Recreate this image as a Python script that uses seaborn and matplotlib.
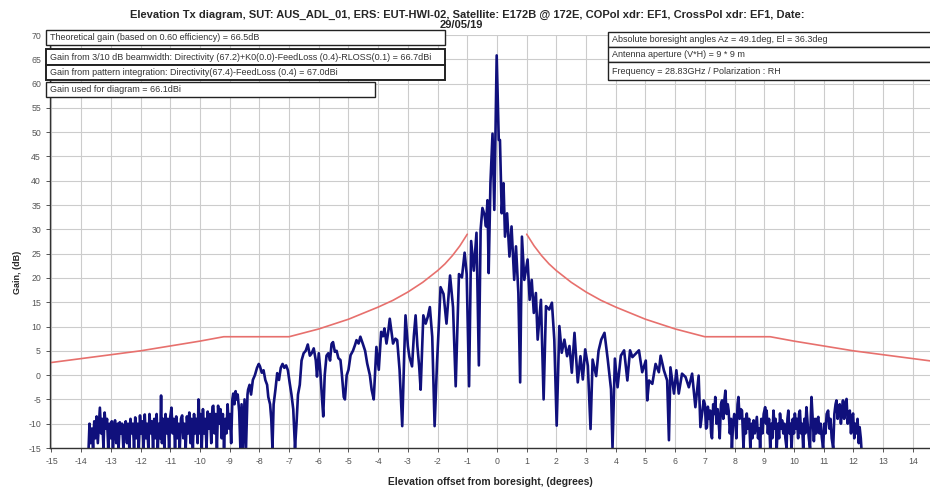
import numpy as np
import pandas as pd
import matplotlib
matplotlib.use("Agg")
import matplotlib.pyplot as plt
from matplotlib.patches import Rectangle
import seaborn as sns

# ---------------- data ----------------
title_lines = ["Elevation Tx diagram, SUT: AUS_ADL_01, ERS: EUT-HWI-02, Satellite: E172B @ 172E, "
               "COPol xdr: EF1, CrossPol xdr: EF1, Date:",
               "29/05/19"]
x_label = "Elevation offset from boresight, (degrees)"
y_label = "Gain, (dB)"
x_ticks = list(range(-15, 15))
y_ticks = list(range(-15, 71, 5))

left_notes = [
    "Theoretical gain (based on 0.60 efficiency) = 66.5dB",
    "Gain from 3/10 dB beamwidth: Directivity (67.2)+K0(0.0)-FeedLoss (0.4)-RLOSS(0.1) = 66.7dBi",
    "Gain from pattern integration: Directivity(67.4)-FeedLoss (0.4) = 67.0dBi",
    "Gain used for diagram = 66.1dBi",
]
right_notes = [
    "Absolute boresight angles Az = 49.1deg, El = 36.3deg",
    "Antenna aperture (V*H) = 9 * 9 m",
    "Frequency = 28.83GHz / Polarization : RH",
]

# measured pattern, far left sidelobes
ang_far_left = [-13.75, -13.72, -13.68, -13.64, -13.60, -13.56, -13.52, -13.48, -13.44, -13.40,
                -13.37, -13.33, -13.29, -13.25, -13.21, -13.17, -13.13, -13.09, -13.05, -13.01,
                -12.97, -12.93, -12.89, -12.86, -12.82, -12.78, -12.74, -12.70, -12.66, -12.62,
                -12.58, -12.54, -12.50, -12.46, -12.42, -12.38, -12.34, -12.30, -12.26, -12.22,
                -12.18, -12.14, -12.10, -12.06, -12.02, -11.98, -11.94, -11.90, -11.86, -11.82,
                -11.78, -11.74, -11.70, -11.66, -11.62, -11.58, -11.54, -11.50, -11.46, -11.42,
                -11.38, -11.34, -11.31, -11.28, -11.24, -11.20, -11.16, -11.12, -11.08, -11.04,
                -11.00, -10.96, -10.92, -10.88, -10.84, -10.80, -10.76, -10.72, -10.68, -10.64,
                -10.60, -10.56, -10.52, -10.48, -10.44, -10.40, -10.36, -10.32, -10.28, -10.24,
                -10.20, -10.16, -10.12, -10.08, -10.05, -10.02, -9.98, -9.94, -9.90, -9.86,
                -9.82, -9.78, -9.74, -9.70, -9.66, -9.62, -9.58, -9.55, -9.51, -9.47,
                -9.43, -9.39, -9.35, -9.31, -9.27, -9.23, -9.19, -9.15, -9.11, -9.07,
                -9.03, -8.99, -8.95]
gain_far_left = [-15, -10, -14, -11, -15, -9.5, -13, -8.5, -14, -10,
                 -6.7, -12, -9, -15, -7.7, -11, -9, -15, -10, -13,
                 -9.5, -15, -10.5, -9.3, -14, -10, -15, -9.7, -12, -10,
                 -15, -11, -9.5, -14, -10, -15, -9, -12, -10, -15,
                 -8.7, -13, -10, -15, -8.3, -12, -9.5, -15, -8.1, -13,
                 -10, -15, -8, -12, -9.5, -15, -9, -13, -8, -15,
                 -10, -13, -4.2, -14, -9, -15, -8, -12, -9, -15,
                 -8.5, -6.7, -12, -9, -15, -8.5, -13, -10, -15, -9,
                 -8.3, -13, -10, -15, -8.5, -12, -7.7, -14, -9, -15,
                 -8, -12, -9, -14, -5, -12, -8, -15, -7, -12,
                 -9, -15, -7.5, -11, -8, -14, -6.5, -6.3, -12, -8,
                 -15, -6.3, -10, -7, -13, -8, -15, -9, -12, -6,
                 -11, -8, -14]

# measured pattern, left near sidelobes
ang_near_left = [-8.91, -8.88, -8.84, -8.80, -8.77, -8.73, -8.68, -8.64, -8.60, -8.55,
                 -8.50, -8.45, -8.40, -8.38, -8.33, -8.28, -8.22, -8.15, -8.08, -8.02,
                 -7.98, -7.92, -7.86, -7.80, -7.74, -7.70, -7.64, -7.60, -7.56, -7.52,
                 -7.46, -7.40, -7.34, -7.28, -7.22, -7.16, -7.10, -7.04, -6.98, -6.92,
                 -6.86, -6.80, -6.75, -6.70, -6.64, -6.58, -6.51, -6.44, -6.37, -6.30,
                 -6.24, -6.17, -6.10, -6.06, -6.00, -5.95, -5.90, -5.85, -5.80, -5.74,
                 -5.68, -5.62, -5.57, -5.52, -5.46, -5.40, -5.34, -5.27, -5.22, -5.16,
                 -5.12, -5.06, -5.00, -4.93, -4.85, -4.78, -4.73, -4.66, -4.60, -4.52,
                 -4.44, -4.37, -4.28, -4.22, -4.15, -4.06, -3.98, -3.90, -3.84, -3.79,
                 -3.72, -3.66, -3.61, -3.50, -3.42, -3.36, -3.28, -3.19, -3.12, -3.08,
                 -3.00, -2.95, -2.86, -2.80, -2.74, -2.68, -2.62, -2.57, -2.48, -2.40,
                 -2.33, -2.26, -2.18, -2.10, -2.02, -1.96, -1.90, -1.80, -1.70, -1.58,
                 -1.48, -1.39, -1.33, -1.28, -1.18, -1.09, -1.02, -0.94, -0.87, -0.78,
                 -0.69, -0.61, -0.55, -0.49, -0.42, -0.37, -0.32, -0.28, -0.24, -0.22,
                 -0.15, -0.09]
gain_near_left = [-5, -3.8, -6, -3.3, -5, -4, -7.5, -15, -6, -15,
                  -5, -15, -4, -3, -2, -4, -1, 0, 1.5, 2.3,
                  1.8, 0.5, 1, -1, -2, -4.5, -6, -9, -15, -6,
                  -3, 0.4, -1, 1.5, 2.3, 1.5, 2, 1, -1.6, -4,
                  -7, -15, -10, -4, -2, 3, 4.5, 5, 6.3, 4,
                  4.5, 5.5, 3, -0.3, 4.5, 1, -4, -8.5, 0, 4,
                  4.5, 3, 6.4, 6.8, 4.8, 5, 3.5, 3.1, 0, -4.5,
                  -5, 0, 1.1, 4.1, 5, 6.2, 7.2, 6.5, 7.9, 6.5,
                  5, 2.4, 0, -3, -5, 5.8, 1.1, 8.9, 8, 9.6,
                  6.5, 9, 11.6, 6.5, 7.5, 7.2, 1.1, -10.5, 5, 12.3,
                  6, 3.8, 1.8, 8, 12.3, 6, 1.8, -3, 12.3, 10.6,
                  12, 14, 7.9, -10.5, 2.4, 10, 18.1, 16.7, 10.6, 20.5,
                  14, -2.3, 10, 20.8, 20.1, 25.2, 20.8, -2.3, 27.6, 21.5,
                  29.3, 2, 30, 34.4, 33, 30.6, 36, 21, 33, 39.5,
                  49.7, 34]

# measured pattern, main beam and right near sidelobes
ang_near_right = [-0.01, 0.06, 0.10, 0.16, 0.22, 0.27, 0.34, 0.42, 0.49, 0.58,
                  0.64, 0.72, 0.78, 0.84, 0.92, 1.03, 1.10, 1.17, 1.24, 1.31,
                  1.37, 1.48, 1.57, 1.65, 1.76, 1.85, 1.93, 2.01, 2.10, 2.18,
                  2.27, 2.36, 2.44, 2.52, 2.61, 2.72, 2.81, 2.89, 2.97, 3.06,
                  3.15, 3.22, 3.34, 3.42, 3.51, 3.62, 3.73, 3.84, 3.89, 3.97,
                  4.06, 4.17, 4.28, 4.39, 4.48, 4.56, 4.67, 4.78, 4.89, 5.01,
                  5.06, 5.12, 5.23, 5.34, 5.45, 5.51, 5.62, 5.73, 5.79, 5.84,
                  5.96, 6.04, 6.12, 6.23, 6.35, 6.46, 6.57, 6.68, 6.79, 6.85,
                  6.96]
gain_near_right = [65.8, 48.4, 48.4, 33.3, 39.5, 28.5, 33.3, 24.4, 30.6, 19.6,
                   26.5, 16.9, -1.5, 28.5, 19.6, 23.8, 15.5, 19.6, 12.8, 16.9,
                   7.3, 15.5, -5, 14.2, 13.5, 14.9, 7.3, -10.4, 10.1, 4.6,
                   7.3, 3.9, 6, 0.5, 8.7, -1.5, 3.9, -0.9, 5.3, 1.9,
                   -11.1, 3.2, -0.2, 5, 7.3, 8.7, 3.2, -2.9, -15, 3.4,
                   -2.5, 4, 5.1, -1.1, 5.1, 3.7, 4.4, 5.1, 0.6, 3,
                   -5.2, -1.1, -1.8, 2.3, 0.6, 4, 1, -1.1, -13.4, 1.6,
                   -3.8, 1, -3.8, 0.3, -0.4, -2.5, 0.3, -6.6, -0.1, -10.7,
                   -5.2]

# measured pattern, far right sidelobes
ang_far_right = [7.00, 7.04, 7.07, 7.10, 7.14, 7.18, 7.21, 7.24, 7.28, 7.32,
                 7.35, 7.39, 7.43, 7.46, 7.50, 7.54, 7.58, 7.62, 7.66, 7.69,
                 7.73, 7.77, 7.80, 7.84, 7.88, 7.91, 7.95, 7.99, 8.02, 8.06,
                 8.10, 8.13, 8.17, 8.21, 8.25, 8.28, 8.30, 8.34, 8.38, 8.41,
                 8.45, 8.49, 8.53, 8.57, 8.60, 8.64, 8.68, 8.72, 8.75, 8.79,
                 8.83, 8.86, 8.90, 8.94, 8.98, 9.03, 9.06, 9.08, 9.12, 9.16,
                 9.20, 9.24, 9.27, 9.31, 9.35, 9.38, 9.42, 9.46, 9.50, 9.53,
                 9.57, 9.60, 9.64, 9.68, 9.71, 9.75, 9.78, 9.81, 9.85, 9.88,
                 9.92, 9.96, 10.00, 10.03, 10.07, 10.10, 10.14, 10.17, 10.20, 10.24,
                 10.27, 10.31, 10.35, 10.38, 10.42, 10.46, 10.50, 10.54, 10.57, 10.59,
                 10.63, 10.67, 10.71, 10.75, 10.79, 10.82, 10.86, 10.90, 10.94, 10.98,
                 11.02, 11.06, 11.10, 11.15, 11.19, 11.23, 11.27, 11.32, 11.36, 11.40,
                 11.43, 11.47, 11.51, 11.54, 11.58, 11.62, 11.65, 11.69, 11.73, 11.77,
                 11.81, 11.84, 11.88, 11.92, 11.95, 11.99, 12.03, 12.07, 12.10, 12.14,
                 12.18, 12.21, 12.25, 12.27]
gain_far_right = [-6, -11, -10.7, -6.5, -9, -7.3, -12, -13, -6, -8,
                  -4.5, -10, -7, -9.3, -13, -6, -5.2, -9, -5, -3.2,
                  -8, -6, -7.3, -12, -9, -15, -10, -8, -8.6, -13,
                  -6, -4.5, -9, -7, -7.3, -12, -15, -9, -12, -7.9,
                  -11, -9, -15, -10, -13, -9.3, -12, -10, -8.6, -13,
                  -11, -15, -9, -12, -8, -6.6, -10, -7.3, -12, -9,
                  -15, -10, -13, -7.3, -11, -9, -15, -10, -13, -7.9,
                  -11, -9.3, -12, -10, -13, -15, -9, -7.3, -12, -10,
                  -15, -9, -12, -7.9, -11, -9, -13, -8, -7.3, -12,
                  -10, -15, -9, -12, -6.6, -10, -13, -15, -8, -4.5,
                  -9, -13.6, -9, -12, -9, -8.6, -12, -10, -13, -15,
                  -10, -12, -8, -7.3, -11, -9, -13, -15, -8, -6,
                  -5.2, -9, -7, -6, -10, -7, -5.2, -9, -6, -4.9,
                  -10, -8, -7.3, -12, -9, -7.9, -13, -10, -12, -9,
                  -14, -10.7, -13, -15]

# reference envelope (mask)
mask_left_ang = [-15, -14, -13, -12, -11, -10, -9.2, -7, -6, -5, -4, -3.5, -3, -2.5, -2, -1.75, -1.5, -1.25, -1.0]
mask_left_gain = [2.6, 3.4, 4.2, 5.0, 6.0, 7.0, 7.9, 7.9, 9.5, 11.5, 14.0, 15.4, 17.1, 19.1, 21.5, 22.9, 24.6, 26.6, 29.0]
mask_right_ang = [1.0, 1.25, 1.5, 1.75, 2, 2.5, 3, 3.5, 4, 5, 6, 7, 9.2, 10, 11, 12, 13, 14, 15]
mask_right_gain = [29.0, 26.6, 24.6, 22.9, 21.5, 19.1, 17.1, 15.4, 14.0, 11.5, 9.5, 7.9, 7.9, 7.0, 6.0, 5.0, 4.2, 3.4, 2.6]

# ---------------- build tables ----------------
pattern = pd.DataFrame({
    "angle": ang_far_left + ang_near_left + ang_near_right + ang_far_right,
    "gain": gain_far_left + gain_near_left + gain_near_right + gain_far_right,
})
mask = pd.DataFrame({
    "angle": mask_left_ang + mask_right_ang,
    "gain": mask_left_gain + mask_right_gain,
    "side": ["left"] * len(mask_left_ang) + ["right"] * len(mask_right_ang),
})

# ---------------- figure ----------------
sns.set_style("white")
plt.rcParams["font.family"] = ["Liberation Sans", "DejaVu Sans"]
plt.rcParams["axes.unicode_minus"] = False

W, H = 930, 487
fig = plt.figure(figsize=(W / 100, H / 100), dpi=100)
ax_l, ax_r, ax_t, ax_b = 50, 930, 35, 448
ax = fig.add_axes([ax_l / W, 1 - ax_b / H, (ax_r - ax_l) / W, (ax_b - ax_t) / H])

ax.set_xlim(-15.05, 14.58)
ax.set_ylim(-15, 70)
ax.set_xticks(x_ticks)
ax.set_yticks(y_ticks)
ax.grid(True, color="#cccccc", linewidth=0.8)
ax.set_axisbelow(True)

sns.lineplot(data=mask, x="angle", y="gain", units="side", estimator=None, sort=False,
             color="#e7706d", linewidth=1.2, ax=ax)
sns.lineplot(data=pattern, x="angle", y="gain", estimator=None, sort=False,
             color="#10107c", linewidth=1.9, ax=ax)

for s in ["top", "right"]:
    ax.spines[s].set_visible(False)
for s in ["left", "bottom"]:
    ax.spines[s].set_color("#333333")
    ax.spines[s].set_linewidth(1.0)

ax.tick_params(axis="both", labelsize=6.3, colors="#555555", length=3, width=0.7,
               direction="out", bottom=True, left=True)
ax.set_xlabel(x_label, fontsize=7.4, fontweight="bold")
ax.xaxis.set_label_coords(0.5, -0.07)
ax.set_ylabel(y_label, fontsize=6.5, fontweight="bold")
ax.yaxis.set_label_coords(-0.032, 0.425)

fig.text(467 / W, 1 - 15 / H, title_lines[0], ha="center", va="center", fontsize=8.0,
         fontweight="bold")
fig.text(461 / W, 1 - 25 / H, title_lines[1], ha="center", va="center", fontsize=8.0,
         fontweight="bold")


def box(x0, y0, x1, y1, text, lw=1.0):
    r = Rectangle((x0 / W, 1 - y1 / H), (x1 - x0) / W, (y1 - y0) / H,
                  transform=fig.transFigure, facecolor="white", edgecolor="#222222",
                  linewidth=lw, zorder=5)
    fig.patches.append(r)
    fig.text((x0 + 4) / W, 1 - ((y0 + y1) / 2) / H, text, fontsize=6.5, color="#333333",
             va="center", ha="left", zorder=6)


box(46, 30, 445, 45, left_notes[0])
box(46, 49, 445, 65, left_notes[1], lw=1.4)
box(46, 65, 445, 80, left_notes[2], lw=1.4)
box(46, 82, 375, 97, left_notes[3])

box(608, 32, 935, 47, right_notes[0])
box(608, 47, 935, 62, right_notes[1])
box(608, 62, 935, 80, right_notes[2])

fig.savefig("out.png", dpi=100)
